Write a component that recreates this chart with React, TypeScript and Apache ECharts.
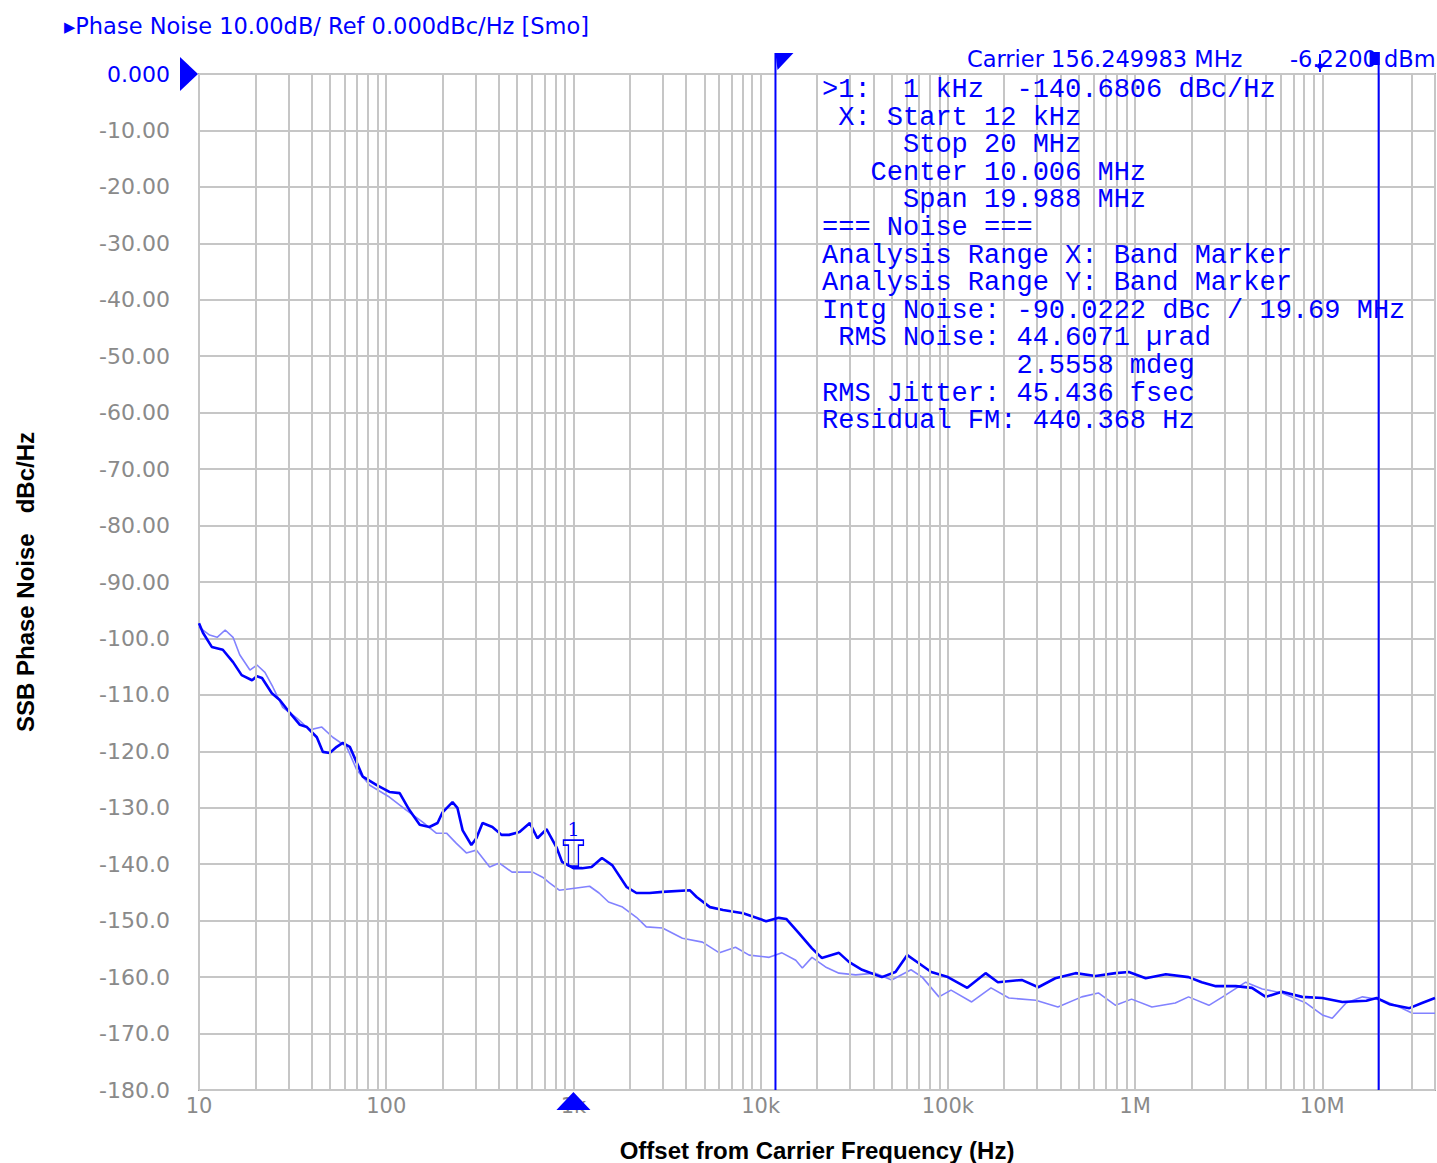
import React, { useEffect, useRef } from "react";
import * as echarts from "echarts";

// ---- data ----
const darkFreq = [
  10, 10.5, 11.7, 13.4, 15.2, 16.9, 19.2, 20.4, 21.7, 24.5, 27, 30.6, 34.6, 37.7, 42.6, 45.9, 49.9, 54.4, 58.6, 63.9,
  69.6, 75, 89, 104, 118, 133, 151, 170, 188, 200, 226, 240, 256, 285, 303, 327, 369, 413, 453, 515,
  585, 642, 718, 812, 870, 1000, 1113, 1250, 1420, 1615, 1920, 2170, 2550, 2990, 4180, 4550, 5360, 6300, 8060, 10700,
  12500, 13700, 16000, 18800, 21200, 26200, 29600, 34800, 44400, 52500, 60700, 69700, 81500, 100000, 127000, 159000, 185000, 248000, 304000, 375000,
  481000, 615000, 787000, 926000, 1.14e6, 1.46e6, 1.93e6, 2.27e6, 2.7e6, 3.45e6, 4.21e6, 4.99e6, 6.09e6, 7.8e6, 10e6, 12.8e6, 17.2e6, 19.5e6, 22.8e6, 29.2e6,
  34.1e6, 40e6,
];
const darkVal = [
  -97.3, -99, -101.5, -102, -104.2, -106.5, -107.4, -106.7, -107, -109.7, -110.9, -113.2, -115.3, -115.7, -117.5, -120.1, -120.3, -119.2, -118.5, -119.2,
  -122, -124.5, -126, -127.2, -127.4, -130.4, -133, -133.4, -132.7, -130.8, -129, -130, -134, -136.6, -135.4, -132.7, -133.4, -134.8, -134.8, -134.3,
  -132.7, -135.4, -133.8, -137, -139.6, -140.7, -140.7, -140.5, -138.9, -140.2, -144, -145.1, -145.1, -144.9, -144.6, -145.8, -147.6, -148.1, -148.7, -150.1,
  -149.5, -149.7, -152.2, -154.9, -156.6, -155.7, -157.3, -158.7, -160, -159.1, -156.1, -157.5, -159.1, -160, -161.9, -159.3, -160.9, -160.5, -161.8, -160.2,
  -159.3, -159.8, -159.3, -159.1, -160.2, -159.5, -160, -160.9, -161.6, -161.6, -161.9, -163.5, -162.6, -163.5, -163.7, -164.4, -164.2, -163.7, -164.8, -165.5,
  -164.6, -163.7,
];
const lightFreq = [
  10, 11.4, 12.5, 13.8, 15.2, 16.5, 18.7, 20.4, 22.5, 24.8, 28, 33.3, 39, 45.3, 51.8, 61.5, 69.6, 81.7, 104, 128,
  156, 185, 210, 237, 268, 303, 357, 402, 470, 606, 684, 745, 840, 1040, 1220, 1370, 1540, 1830, 2170, 2450,
  2990, 3820, 4890, 6020, 7340, 8680, 11100, 13000, 15400, 16700, 18800, 22200, 26200, 32200, 41000, 50100, 63600, 72900, 89600, 104000,
  134000, 170000, 212000, 295000, 387000, 519000, 637000, 787000, 958000, 1.23e6, 1.64e6, 1.93e6, 2.48e6, 3.04e6, 3.9e6, 4.78e6, 6.09e6, 8.2e6, 10e6, 11.3e6,
  13.4e6, 16.4e6, 21e6, 25.8e6, 30.3e6, 40e6,
];
const lightVal = [
  -98, -99.4, -99.8, -98.5, -99.8, -102.9, -105.6, -104.7, -106, -108.6, -112.2, -114.1, -116.2, -115.7, -117.5, -119.2, -123.3, -126, -128.1, -130.4,
  -132.5, -134.5, -134.5, -136.3, -138, -137.5, -140.5, -139.8, -141.4, -141.4, -142.3, -143.3, -144.6, -144.2, -143.9, -145.1, -146.7, -147.6, -149.4, -151.1,
  -151.3, -153.1, -153.8, -155.7, -154.7, -156.1, -156.5, -155.7, -157, -158.4, -156.5, -158.2, -159.3, -159.6, -159.3, -160.5, -158.7, -160, -163.5, -162.3,
  -164.4, -161.9, -163.7, -164.1, -165.3, -163.5, -162.8, -165, -163.9, -165.3, -164.6, -163.5, -165, -163.2, -160.9, -162.1, -162.8, -164.6, -166.7, -167.3,
  -164.6, -163.5, -164.1, -165.3, -166.4, -166.4,
];

const xTickValues = [10, 100, 1000, 10000, 100000, 1e6, 1e7];
const xTickLabels = ["10", "100", "1k", "10k", "100k", "1M", "10M"];
const xMin = 10;
const xMax = 40e6;
const yMin = -180;
const yMax = 0;
const yStep = 10;

const bandStart = 12000;
const bandStop = 20e6;
const markerFreq = 1000;
const markerVal = -140.6806;

const headerText = "\u25B8Phase Noise 10.00dB/ Ref 0.000dBc/Hz [Smo]";
const carrierText = "Carrier 156.249983 MHz";
const powerText = "-6.2200 dBm";
const infoLines = [
  ">1:  1 kHz  -140.6806 dBc/Hz",
  " X: Start 12 kHz",
  "     Stop 20 MHz",
  "   Center 10.006 MHz",
  "     Span 19.988 MHz",
  "=== Noise ===",
  "Analysis Range X: Band Marker",
  "Analysis Range Y: Band Marker",
  "Intg Noise: -90.0222 dBc / 19.69 MHz",
  " RMS Noise: 44.6071 \u00B5rad",
  "            2.5558 mdeg",
  "RMS Jitter: 45.436 fsec",
  "Residual FM: 440.368 Hz",
];
const yTitle = "SSB Phase Noise   dBc/Hz";
const xTitle = "Offset from Carrier Frequency (Hz)";

// ---- styles ----
const BLUE = "#0000ff";
const LIGHT = "#8282ff";
const GRID = "#c6c6c6";
const LABEL_GRAY = "#8a8a8a";

function minorGridValues() {
  const out: number[] = [];
  for (const d of xTickValues) {
    for (let m = 2; m <= 9; m++) {
      const v = m * d;
      if (v < xMax) out.push(v);
    }
  }
  return out;
}

export default function App() {
  const ref = useRef<HTMLDivElement>(null);
  useEffect(() => {
    const chart = echarts.init(ref.current!, null, { renderer: "svg" });
    const option: any = {
      animation: false,
      backgroundColor: "#ffffff",
      grid: {
        left: 199,
        top: 74,
        right: 2,
        bottom: 73,
        containLabel: false,
        outerBoundsMode: "none",
        show: true,
        borderColor: "#a4a4a4",
        borderWidth: 2,
      },
      xAxis: {
        type: "log",
        logBase: 10,
        min: xMin,
        max: xMax,
        splitNumber: 7,
        name: xTitle,
        nameLocation: "middle",
        nameGap: 48,
        nameTextStyle: { fontFamily: "Liberation Sans", fontWeight: "bold", fontSize: 24, color: "#000" },
        axisLine: { show: false },
        axisTick: { show: false },
        axisLabel: {
          color: LABEL_GRAY,
          fontFamily: "DejaVu Sans",
          fontSize: 21,
          margin: 5,
          formatter: (v: number) => {
            const i = xTickValues.findIndex((t) => Math.abs(t - v) / t < 1e-6);
            return i >= 0 ? xTickLabels[i] : "";
          },
        },
        splitLine: { show: true, lineStyle: { color: GRID, width: 2 } },
      },
      yAxis: {
        type: "value",
        min: yMin,
        max: yMax,
        interval: yStep,
        name: yTitle,
        nameLocation: "middle",
        nameRotate: 90,
        nameGap: 162,
        nameTextStyle: { fontFamily: "Liberation Sans", fontWeight: "bold", fontSize: 24, color: "#000" },
        axisLine: { show: false },
        axisTick: { show: false },
        axisLabel: {
          color: LABEL_GRAY,
          fontFamily: "DejaVu Sans",
          fontSize: 22,
          margin: 29,
          formatter: (v: number) => {
            if (v === 0) return "{b|0.000}";
            return v > -100 ? v.toFixed(2) : v.toFixed(1);
          },
          rich: { b: { color: BLUE, fontFamily: "DejaVu Sans", fontSize: 22 } },
        },
        splitLine: { show: true, lineStyle: { color: GRID, width: 2 } },
      },
      series: [
        {
          name: "grid",
          type: "line",
          z: 1,
          data: [[xMin, yMin]],
          showSymbol: false,
          silent: true,
          lineStyle: { opacity: 0 },
          markLine: {
            silent: true,
            symbol: ["none", "none"],
            label: { show: false },
            lineStyle: { color: GRID, width: 2, type: "solid" },
            data: minorGridValues().map((v) => ({ xAxis: v })),
          },
        },
        {
          name: "Light",
          type: "line",
          z: 2,
          data: lightFreq.map((f, i) => [f, lightVal[i]]),
          showSymbol: false,
          lineStyle: { color: LIGHT, width: 1.6 },
          itemStyle: { color: LIGHT },
        },
        {
          name: "Dark",
          type: "line",
          z: 3,
          data: darkFreq.map((f, i) => [f, darkVal[i]]),
          showSymbol: false,
          lineStyle: { color: BLUE, width: 2.6 },
          itemStyle: { color: BLUE },
          markPoint: {
            silent: true,
            data: [
              {
                coord: [markerFreq, markerVal],
                symbol: "path://M0,0 H20 V5 H15 V26 H5 V5 H0 Z",
                symbolSize: [20, 26],
                symbolOffset: [0, -15],
                itemStyle: { color: "rgba(255,255,255,0)", borderColor: BLUE, borderWidth: 1.5 },
                label: {
                  show: true,
                  position: "top",
                  distance: 1,
                  formatter: "1",
                  color: BLUE,
                  fontFamily: "DejaVu Serif",
                  fontSize: 19,
                },
              },
              {
                coord: [markerFreq, yMin],
                symbol: "triangle",
                symbolSize: [34, 18],
                symbolOffset: [0, 11],
                itemStyle: { color: BLUE },
                label: { show: false },
              },
              {
                coord: [xMin, yMax],
                symbol: "path://M0,0 L10,6 L0,12 Z",
                symbolSize: [18, 34],
                symbolOffset: [-10, 0],
                itemStyle: { color: BLUE },
                label: { show: false },
              },
            ],
          },
        },
      ],
    };
    chart.setOption(option);

    const px = (f: number) => chart.convertToPixel({ xAxisIndex: 0 }, f) as number;
    const py = (v: number) => chart.convertToPixel({ yAxisIndex: 0 }, v) as number;
    const xs = px(bandStart);
    const xe = px(bandStop);
    const yb = py(yMin);
    const lineH = 27.6;

    const graphic: any[] = [
      {
        type: "text",
        x: 64,
        y: 14,
        style: { text: headerText, fill: BLUE, font: "22.5px 'DejaVu Sans'" },
      },
      {
        type: "text",
        x: 967,
        y: 47,
        style: { text: carrierText, fill: BLUE, font: "22.5px 'DejaVu Sans'" },
      },
      {
        type: "text",
        x: 1290,
        y: 47,
        style: { text: powerText, fill: BLUE, font: "22.5px 'DejaVu Sans'" },
      },
      {
        type: "line",
        z: 20,
        shape: { x1: xs, y1: 53, x2: xs, y2: yb },
        style: { stroke: BLUE, lineWidth: 2 },
      },
      {
        type: "polygon",
        z: 20,
        shape: { points: [[xs, 53], [xs + 18, 53], [xs + 2, 70]] },
        style: { fill: BLUE },
      },
      {
        type: "line",
        z: 20,
        shape: { x1: xe, y1: 52, x2: xe, y2: yb },
        style: { stroke: BLUE, lineWidth: 2 },
      },
      {
        type: "rect",
        z: 20,
        shape: { x: xe - 9, y: 52, width: 10, height: 13 },
        style: { fill: BLUE },
      },
      {
        type: "line",
        z: 20,
        shape: { x1: 1320, y1: 54, x2: 1320, y2: 72 },
        style: { stroke: BLUE, lineWidth: 2 },
      },
      {
        type: "circle",
        z: 20,
        shape: { cx: 1320, cy: 66, r: 3 },
        style: { fill: BLUE },
      },
    ];
    infoLines.forEach((t, i) => {
      graphic.push({
        type: "text",
        z: 30,
        x: 822,
        y: 90 + i * lineH,
        style: {
          text: t,
          fill: BLUE,
          font: "27px 'Liberation Mono'",
          verticalAlign: "middle",
        },
      });
    });
    chart.setOption({ graphic });
    return () => chart.dispose();
  }, []);
  return <div ref={ref} style={{ position: "absolute", left: 0, top: 0, width: 1437, height: 1163 }} />;
}
